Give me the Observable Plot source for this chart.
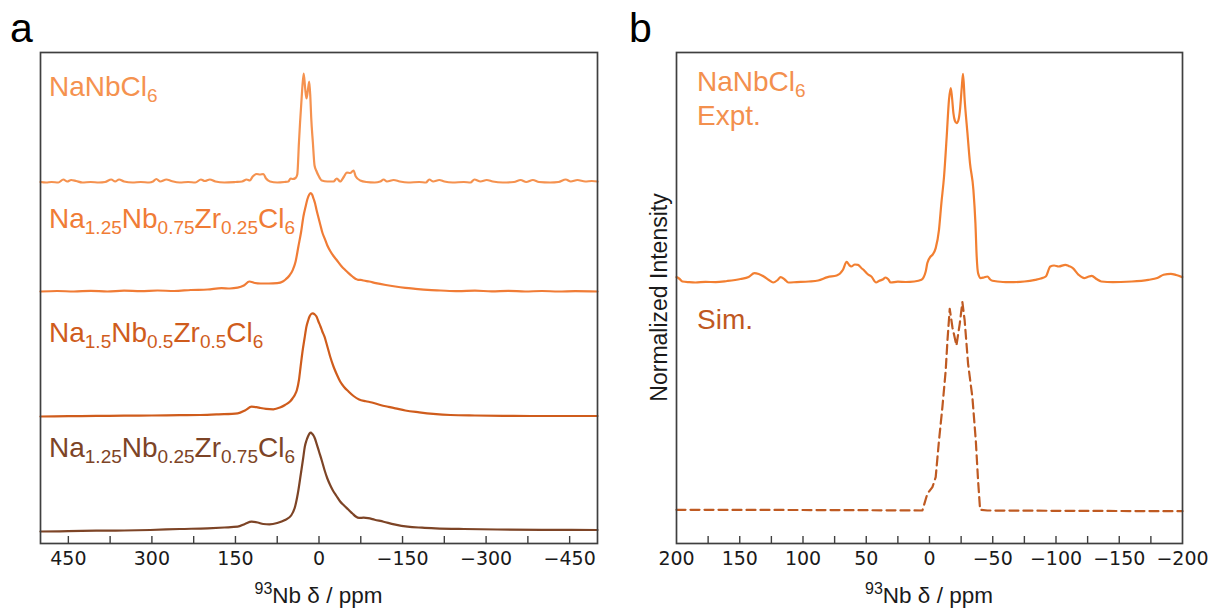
<!DOCTYPE html>
<html><head><meta charset="utf-8">
<script src="https://cdn.jsdelivr.net/npm/d3@7"></script>
<script src="https://cdn.jsdelivr.net/npm/@observablehq/plot@0.6"></script>
<style>
body{margin:0;background:#fff;}
#wrap{position:relative;width:1211px;height:611px;overflow:hidden;background:#fff;}
#wrap svg{position:absolute;top:0;overflow:visible;}
</style></head><body><div id="wrap"></div>
<script>
// ---------- Panel a data (93Nb shift in ppm, intensity above own baseline) ----------
const s1Ppm = [500,490,480,468,459,452,445,436,425,410,395,384,373,366,359,350,335,320,305,298,292,285,274,265,250,235,222,212,205,196,186,170,150,138,130,124,119,112,106,100,95,88,75,62,55,51,47,42,39,36,34,31,27.5,25,22.5,20,17.5,15.5,14,11,8,5,1,-5,-15,-26,-32,-38,-45,-50,-56,-62,-66,-74,-85,-100,-110,-116,-122,-134,-145,-160,-180,-192,-198,-205,-216,-225,-240,-260,-272,-279,-290,-301,-312,-330,-350,-362,-372,-384,-395,-415,-430,-443,-452,-464,-478,-490,-500];
const s1Int = [0.5,0,0.5,0,3,1,2.5,1.5,0,0.5,0,0.5,3,1,3,1,0,0.5,0,1,3.5,1,3,1.5,0,0.5,0,3,1.5,3,1,0,0.5,1,3,2,6,8.5,8,8.5,4,1,0,0.5,1,4,3.5,4.5,8,40,60,86,109,95,84,92,101,85,65,40,17,12,7,2,1,1,4,1,6,10,9.5,12,6,2,0.5,0,1,3,1,2.5,1,0,0.5,0,3,1,2.5,1,0,0.5,0,3,1,2.5,1,0,0.5,2.5,0.5,2.5,0.5,0,0.5,3,1,2.5,1,1.5,1];

const s2Ppm = [500,470,440,410,380,350,320,290,260,230,200,175,160,146,135,125,115,105,90,75,65,60,53,47,42,37,32,28,24,21,17.5,14.7,12,9.9,7,4.5,1,-2.7,-6,-9.9,-15,-20.7,-26,-31.4,-40,-48,-53,-60,-66,-70,-75,-80,-90,-102,-120,-137,-155,-173,-195,-218,-250,-280,-310,-340,-370,-400,-430,-460,-500];
const s2Int = [0,0.5,0,0.7,0,0.8,0.3,1,0.5,1.5,2,3.4,3,3.8,6,10,8.5,8,8,8.4,10,12,16,21.7,30,45,60,75,85,92,97,98.4,96.5,93,88,81.7,74,66,59,53.4,46,40,35.5,31.7,25.5,21,18.4,15,12.5,11.7,11.7,11,10,8.4,6.5,5,3.7,2.7,1.6,1,0.3,0.8,0.2,0.6,0,0.5,0,0.4,0];

const s3Ppm = [500,450,400,350,300,250,213,180,146,133,121,112,105,95,82,70,61,52,47.6,43,39.7,36,33,29.6,26,22.5,19.5,17,14,11,8,4.5,1,-2.7,-6,-9.9,-14,-20,-26,-32,-38,-45,-53,-62,-72,-84,-95,-110,-125,-137,-155,-180,-205,-236,-280,-330,-380,-440,-500];
const s3Int = [0,0.3,0.6,0.8,1,1.3,1.5,2.2,3.2,6,9.8,9.3,8.5,7.6,7.2,9,11.5,15,18,22,26.5,36.5,50,65,78,90,96,100,102.5,103.2,102.2,100,95,90,85,79.8,72,60,50,42,35,29.5,25,20.5,17,15.3,14,11.5,9.6,8.2,6,4.2,2.7,1.5,1,0.7,0.5,0.5,0.5];

const s4Ppm = [500,450,400,350,303,250,200,170,146,133,121,110,100,89,75,61,50,43,38,32.5,28.5,25.5,22.5,19.8,17,14.7,12,9.9,7,4.5,0,-5,-9.9,-15,-20,-25,-31.4,-38,-45,-52.6,-60,-66,-72,-80,-88,-100,-116,-135,-159,-185,-209,-260,-320,-400,-500];
const s4Int = [0,0.3,0.8,1,1.5,2.5,3.2,4,4.8,7.5,9.8,9,7.5,7.2,8.5,11.5,16,24.8,38,58,73,84.8,91,95,98,98.8,97.5,96,92.5,88.2,80,71,61.5,53,46.5,41,35.5,30,26,22,18,15,13.6,13.8,13.4,11.8,9.8,7.2,4.8,3.8,3.2,2.5,2,1.7,1.5];

// stacking offsets of the four spectra (same units as intensities)
const aOffsets = [361, 252, 127, 12];
const aNames = ["NaNbCl6", "Na1.25Nb0.75Zr0.25Cl6", "Na1.5Nb0.5Zr0.5Cl6", "Na1.25Nb0.25Zr0.75Cl6"];
const aTicksMinor = [450,375,300,225,150,75,0,-75,-150,-225,-300,-375,-450];
const aTickLabels = [450,300,150,0,-150,-300,-450];

// ---------- Panel b data ----------
const exPpm = [200,198,195.3,190,185,177,169,160,149.4,143,138.4,135,131,127,123.6,120,117.7,114.5,111.6,105,95.3,88,80.5,73.4,68.4,65.5,63.5,61.9,59,56.5,53.5,52.1,49,46,42.2,40,37,34.7,32.5,30.7,25,18.8,12,6.4,3,1.7,-0.9,-2.5,-4.9,-7.5,-9.4,-11.5,-13.6,-15.4,-16.8,-17.8,-18.9,-20,-21.5,-23,-24.1,-25.5,-26.5,-27.8,-30,-32,-34.7,-36.3,-37.3,-38.4,-40.5,-43,-45.8,-48,-49.8,-58,-66.6,-75,-83.6,-88,-91.9,-95.5,-98.5,-102.2,-107.4,-110,-113.3,-117.9,-122.3,-125,-128.3,-132,-135.8,-145,-151.3,-160,-173,-180,-185,-190.8,-195,-199.8];
const exInt = [5.4,4,1,0.3,0,0.6,0.4,1.5,3.5,5.5,9.4,8.5,6,2.5,0,2.5,5.4,3,0,0.4,1,2,5.4,7,12.7,20.7,17.5,16,18,17.7,14,12.7,8.5,6,0,1.5,3,5,3,0,0.8,0.5,1,2.7,11,19.4,26,28,34.4,52.7,79.4,106,146,182.7,194.4,185,169.4,162,159.4,163,172.7,195,208.7,182.7,149.4,119.4,92.7,59.4,26,9.4,4.4,5,6,3,1.7,0.5,0.4,1,2.7,4,6,16,17,16,17.7,16.5,14.4,7.7,4.4,5.5,6.7,3.5,1,0.4,0.5,1,2.7,4.5,7.7,8.7,7.5,5.4];

const simPpm = [200,150,100,50,5.6,1.7,-2.3,-4.9,-7.5,-10.2,-12.8,-14.2,-16,-18.1,-21.3,-23.9,-26,-27.8,-30.5,-33.9,-36.6,-38.4,-40,-45.8,-100,-150,-200];
const simInt = [0.7,0.6,0.5,0.3,0,16.7,23.3,33.3,70,103.3,140,170,201.7,183.3,165,186.7,208.3,190,146.7,113.3,70,30,0.7,0,-0.3,-0.5,-0.7];

const bOffsets = [261, 33];
const bNames = ["NaNbCl6", "Expt.", "Sim."];
const bTicksMinor = [175,150,125,100,75,50,25,0,-25,-50,-75,-100,-125,-150,-175];
const bTickLabels = [200,150,100,50,0,-50,-100,-150,-200];

// ---------- styling ----------
const FRAME = "#3f3f3f";
const aColors = ["#f5924f", "#f07c36", "#cf5c1c", "#7d4426"];
const bColors = ["#f27f31", "#bf5a22"];
const textFont = "'Liberation Sans', Arial, sans-serif";
const tickFont = "'DejaVu Sans', sans-serif";
const fmt = d => d < 0 ? "\u2212" + Math.abs(d) : String(d);
const rows = (ppm, h, off) => ppm.map((p, i) => ({ppm: p, y: h[i] + off}));

const wrap = document.getElementById("wrap");

function axisMarks(minor, labels) {
  return [
    Plot.axisX({ticks: minor, tickSize: -7, text: null, stroke: FRAME, strokeWidth: 1.4, label: null}),
    Plot.axisX({ticks: labels, tickSize: 0, tickPadding: 8, tickFormat: fmt, fill: "#1a1a1a", label: null})
  ];
}

// Panel a
const aSeries = [[s1Ppm, s1Int], [s2Ppm, s2Int], [s3Ppm, s3Int], [s4Ppm, s4Int]];
const plotA = Plot.plot({
  width: 620, height: 611,
  marginLeft: 40, marginRight: 23, marginTop: 52, marginBottom: 68,
  style: {fontFamily: tickFont, fontSize: "19px", background: "transparent", overflow: "visible"},
  x: {domain: [500, -500]},
  y: {domain: [0, 491], axis: null},
  marks: [
    ...aSeries.map((s, i) => Plot.line(rows(s[0], s[1], aOffsets[i]), {x: "ppm", y: "y", stroke: aColors[i], strokeWidth: 2.2, curve: "monotone-x"})),
    Plot.frame({stroke: FRAME, strokeWidth: 1.7}),
    ...axisMarks(aTicksMinor, aTickLabels)
  ]
});
plotA.style.left = "0px";
wrap.appendChild(plotA);

// Panel b
const plotB = Plot.plot({
  width: 591, height: 611,
  marginLeft: 56, marginRight: 29, marginTop: 52, marginBottom: 68,
  style: {fontFamily: tickFont, fontSize: "19px", background: "transparent", overflow: "visible"},
  x: {domain: [200, -200]},
  y: {domain: [0, 491], axis: null},
  marks: [
    Plot.line(rows(exPpm, exInt, bOffsets[0]), {x: "ppm", y: "y", stroke: bColors[0], strokeWidth: 2.2, curve: "monotone-x"}),
    Plot.line(rows(simPpm, simInt, bOffsets[1]), {x: "ppm", y: "y", stroke: bColors[1], strokeWidth: 2.2, strokeDasharray: "9,5"}),
    Plot.frame({stroke: FRAME, strokeWidth: 1.7}),
    ...axisMarks(bTicksMinor, bTickLabels)
  ]
});
plotB.style.left = "620px";
wrap.appendChild(plotB);

// ---------- rich text helpers ----------
function formula(svg, str, x, y, color, size, subSize) {
  const t = d3.select(svg).append("text").attr("x", x).attr("y", y).attr("text-anchor", "start")
    .attr("fill", color).attr("font-family", textFont).attr("font-size", size);
  const parts = str.match(/[A-Za-z]+|[0-9.]+/g);
  let sub = false;
  parts.forEach(p => {
    const isNum = /^[0-9.]+$/.test(p);
    const ts = t.append("tspan").text(p);
    if (isNum && !sub) { ts.attr("dy", 6).attr("font-size", subSize); sub = true; }
    else if (isNum) { ts.attr("font-size", subSize); }
    else if (sub) { ts.attr("dy", -6); sub = false; }
  });
  return t;
}
function plain(svg, str, x, y, color, size) {
  return d3.select(svg).append("text").attr("x", x).attr("y", y).attr("text-anchor", "start").attr("fill", color)
    .attr("font-family", textFont).attr("font-size", size).text(str);
}
function axisTitle(svg, cx, y) {
  const t = d3.select(svg).append("text").attr("x", cx).attr("y", y).attr("text-anchor", "middle")
    .attr("fill", "#1a1a1a").attr("font-family", textFont).attr("font-size", 22.5);
  t.append("tspan").attr("font-size", 16).attr("dy", -9).text("93");
  t.append("tspan").attr("dy", 9).text("Nb \u03b4 / ppm");
}

// Panel a annotations
const aLabelY = [96, 228, 342, 457];
aNames.forEach((n, i) => formula(plotA, n, 49, aLabelY[i], aColors[i], 28, 19));
axisTitle(plotA, 318.5, 603);
plain(plotA, "a", 10, 42, "#000", 41);

// Panel b annotations
formula(plotB, bNames[0], 77, 91, "#f3904e", 28, 19);
plain(plotB, bNames[1], 77, 124.5, "#f3904e", 28);
plain(plotB, bNames[2], 77, 328.5, "#c0581f", 28);
axisTitle(plotB, 309, 603);
d3.select(plotB).append("text").attr("transform", "translate(47,297.5) rotate(-90)")
  .attr("text-anchor", "middle").attr("fill", "#1a1a1a").attr("font-family", textFont)
  .attr("font-size", 23).text("Normalized Intensity");
plain(plotB, "b", 9, 42, "#000", 41);
</script></body></html>
